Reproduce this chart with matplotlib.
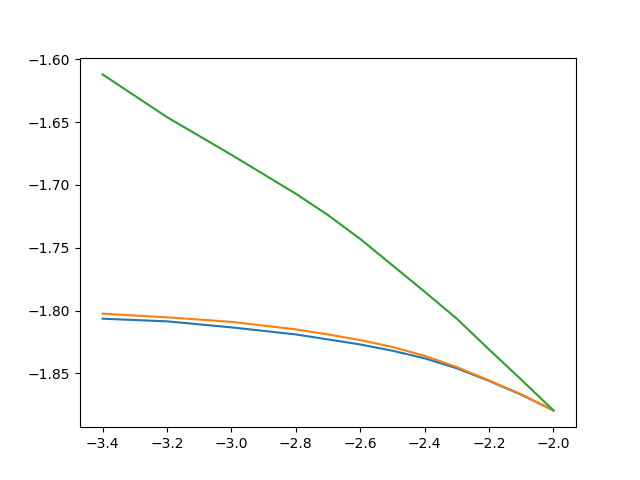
import matplotlib
matplotlib.use("Agg")
import matplotlib.pyplot as plt

x = [-3.4, -3.2, -3.0, -2.8, -2.7, -2.6, -2.5, -2.4, -2.3, -2.2, -2.1, -2.0]
y1 = [-1.8065, -1.8086, -1.8134, -1.819, -1.823, -1.827, -1.832, -1.838,
      -1.846, -1.856, -1.867, -1.8795]
y2 = [-1.8025, -1.8054, -1.809, -1.815, -1.819, -1.8235, -1.829, -1.836,
      -1.845, -1.8556, -1.8667, -1.8795]
y3 = [-1.612, -1.646, -1.676, -1.707, -1.724, -1.743, -1.764, -1.785,
      -1.8065, -1.831, -1.855, -1.8795]

fig, ax = plt.subplots(figsize=(6.4, 4.8), dpi=100)
ax.plot(x, y1)
ax.plot(x, y2)
ax.plot(x, y3)

plt.savefig("out.png")
